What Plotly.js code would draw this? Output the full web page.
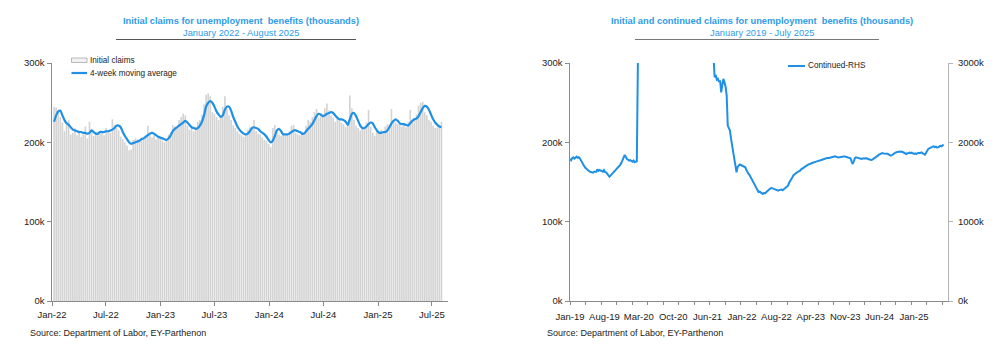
<!DOCTYPE html>
<html>
<head>
<meta charset="utf-8">
<script src="https://cdn.plot.ly/plotly-3.0.1.min.js"></script>
<style>
  html, body { margin: 0; padding: 0; background: #fff; }
  #chart { width: 1000px; height: 354px; }
</style>
</head>
<body>
<div id="chart"></div>
<script>
// ---------- Left chart: weekly initial claims (thousands), weeks from 2022-01-08 ----------
const initialStartDate = '2022-01-08';
const initialClaims = [
  245,244,238,232,225,214,222,228,210,212,218,209,215,207,210,220,205,226,212,208,
  213,210,212,215,209,218,214,212,229,222,218,215,207,204,200,196,190,191,203,205,
  204,201,206,205,209,221,212,206,210,204,208,206,202,200,203,210,213,222,220,218,
  228,232,236,234,221,216,218,214,220,226,228,235,248,260,262,258,238,236,232,228,
  232,245,258,242,234,228,222,218,214,211,209,207,212,216,219,220,228,214,211,210,
  206,203,202,198,194,218,222,212,210,208,212,209,211,214,221,222,212,210,209,214,
  212,221,228,226,232,238,242,231,233,236,243,249,240,234,231,226,230,228,225,223,
  219,222,259,243,228,221,218,215,219,220,225,241,220,212,208,214,211,216,213,220,
  223,222,242,227,225,223,224,220,223,219,226,241,228,231,235,246,250,251,238,234,
  228,226,221,218,219,222,226
];
const movingAverage4w = [
  226,234,239,240,234,228,224,222,219,216,215,214,213,213,212,212,211,212,215,213,
  211,211,213,213,213,214,214,215,216,218,221,221,219,213,208,204,200,198,199,200,
  201,202,204,205,207,209,211,212,211,209,207,206,205,204,203,205,209,214,217,219,
  221,223,225,227,225,222,219,218,217,218,221,226,234,245,250,252,250,245,239,235,
  232,234,241,245,245,240,232,226,220,216,213,211,210,211,214,218,219,218,217,214,
  212,210,207,203,200,202,208,215,217,214,210,210,210,211,213,215,215,214,213,211,
  211,214,217,220,223,228,233,236,235,233,234,236,237,238,237,234,231,229,229,228,
  226,222,229,236,237,233,227,221,218,218,220,223,225,224,219,215,212,212,213,213,
  215,219,224,227,229,227,224,223,223,222,221,224,227,229,230,233,238,243,246,245,
  241,235,229,225,222,220,219
];
const leftXTickFormat = '%b-%y';

// ---------- Right chart: weekly continued claims (thousands), Jan 2019 - Jul 2025 ----------
const continuedClaims = [
  1790,1775,1800,1811,1795,1815,1819,1805,1812,1798,1770,1745,1727,1700,1680,1664,1650,1645,1630,1625,
  1622,1618,1630,1625,1630,1660,1640,1651,1645,1630,1630,1650,1625,1622,1600,1585,1567,1580,1595,1613,
  1625,1645,1664,1675,1690,1706,1720,1745,1769,1810,1840,1805,1790,1780,1769,1775,1760,1756,1770,1750,
  1756,1760,3060,7450,11900,15800,18000,19500,22300,22500,20800,21000,20500,19300,18200,17600,17000,16900,16200,15500,
  14800,13500,13300,12500,13400,12600,11800,10900,10000,9300,8300,7800,7200,6800,6400,6100,5800,5500,5300,5200,
  5100,5000,4900,4700,4800,4550,4400,4200,4300,4200,4100,3900,3800,3750,3700,3650,3700,3650,3700,3650,
  3600,3550,3500,3450,3400,3350,3300,3300,3250,3200,3150,3080,2820,2850,2790,2800,2760,2780,2630,2720,
  2800,2758,2700,2590,2211,2180,2148,2043,1960,1874,1811,1750,1622,1690,1706,1720,1714,1705,1700,1690,
  1685,1650,1620,1601,1585,1560,1538,1510,1480,1454,1430,1400,1375,1378,1365,1360,1350,1362,1357,1370,
  1385,1391,1405,1420,1425,1418,1410,1412,1400,1395,1391,1398,1402,1404,1395,1408,1412,1425,1440,1454,
  1490,1520,1538,1560,1585,1601,1610,1620,1628,1635,1643,1660,1670,1680,1693,1700,1710,1718,1725,1727,
  1735,1740,1745,1748,1755,1760,1765,1769,1772,1778,1782,1786,1790,1795,1800,1802,1798,1803,1810,1815,
  1818,1820,1825,1818,1812,1808,1811,1815,1818,1822,1820,1820,1815,1810,1808,1803,1800,1760,1727,1760,
  1800,1811,1805,1800,1795,1792,1790,1795,1798,1800,1802,1799,1790,1785,1780,1778,1782,1790,1800,1810,
  1820,1832,1845,1855,1862,1865,1860,1858,1862,1862,1855,1845,1838,1832,1840,1852,1865,1870,1874,1878,
  1880,1885,1880,1883,1875,1865,1858,1853,1860,1868,1872,1865,1870,1860,1855,1862,1853,1860,1868,1862,
  1870,1874,1860,1855,1845,1870,1900,1916,1925,1935,1942,1946,1950,1940,1945,1935,1937,1942,1955,1950,
  1960,1971
];
const rightXLabels = ['Jan-19','Aug-19','Mar-20','Oct-20','Jun-21','Jan-22','Aug-22','Apr-23','Nov-23','Jun-24','Jan-25'];

// ---------- Text ----------
const leftTitle = 'Initial claims for unemployment  benefits (thousands)';
const leftSubtitle = 'January 2022 - August 2025';
const rightTitle = 'Initial and continued claims for unemployment  benefits (thousands)';
const rightSubtitle = 'January 2019 - July 2025';
const sourceText = 'Source: Department of Labor, EY-Parthenon';
const legendNames = ['Initial claims', '4-week moving average', 'Continued-RHS'];

// ---------- Build ----------
const weeklyDates = initialClaims.map((_, i) => {
  const d = new Date(initialStartDate + 'T00:00:00Z');
  d.setUTCDate(d.getUTCDate() + 7 * i);
  return d.toISOString().slice(0, 10);
});
const weekIndex = continuedClaims.map((_, i) => i);
const labelStep = 31.4;      // weeks between axis labels (~7.2 months)
const minorTickStep = 14.15; // weeks between tick marks
const rightTickVals = rightXLabels.map((_, k) => k * labelStep);

const BLUE = '#1f90e6';
const TITLE_BLUE = '#2e9be8';
const AXIS_GRAY = '#8a8a8a';
const FONT = 'Liberation Sans, Arial, sans-serif';
const W = 1000, H = 354;
const px = v => v / W;
const py = v => 1 - v / H;

const traces = [
  {
    type: 'bar', name: legendNames[0], x: weeklyDates, y: initialClaims,
    marker: { color: '#d3d3d3', line: { width: 0 } },
    xaxis: 'x', yaxis: 'y', showlegend: false
  },
  {
    type: 'scatter', mode: 'lines', name: legendNames[1], x: weeklyDates, y: movingAverage4w,
    line: { color: BLUE, width: 2.2, shape: 'spline', smoothing: 0.6 },
    xaxis: 'x', yaxis: 'y', showlegend: false
  },
  // anchor trace so the right chart's left (0-300k) axis subplot exists
  {
    type: 'scatter', mode: 'lines', x: [], y: [], xaxis: 'x2', yaxis: 'y2',
    showlegend: false, hoverinfo: 'skip'
  },
  {
    type: 'scatter', mode: 'lines', name: legendNames[2], x: weekIndex, y: continuedClaims,
    line: { color: BLUE, width: 2 },
    xaxis: 'x2', yaxis: 'y3', showlegend: false
  }
];

const yDom = [1 - 301 / 354, 1 - 63 / 354];
const tickFont = { family: FONT, size: 9.5, color: '#222' };

const layout = {
  width: W, height: H,
  margin: { l: 0, r: 0, t: 0, b: 0 },
  paper_bgcolor: '#fff', plot_bgcolor: 'rgba(0,0,0,0)',
  font: { family: FONT, size: 9.5, color: '#222' },
  bargap: 0.22,
  showlegend: false,
  xaxis: {
    domain: [0.052, 0.448], anchor: 'y', type: 'date',
    range: ['2022-01-01', '2025-08-24'],
    tick0: '2022-01-01', dtick: 'M6', tickformat: leftXTickFormat, tickangle: 0,
    showgrid: false, zeroline: false,
    showline: true, linecolor: AXIS_GRAY, linewidth: 1.2,
    ticks: 'outside', ticklen: 4, tickcolor: AXIS_GRAY, tickfont: tickFont
  },
  yaxis: {
    domain: yDom, anchor: 'x', range: [0, 300], dtick: 100, ticksuffix: 'k',
    showgrid: false, zeroline: false,
    showline: true, linecolor: AXIS_GRAY, linewidth: 1.5,
    ticks: 'outside', ticklen: 4, tickcolor: AXIS_GRAY, tickfont: tickFont
  },
  xaxis2: {
    domain: [0.570, 0.948], anchor: 'y2', type: 'linear',
    range: [0, 345], tickangle: 0,
    tickmode: 'array', tickvals: rightTickVals, ticktext: rightXLabels,
    showgrid: false, zeroline: false,
    showline: true, linecolor: AXIS_GRAY, linewidth: 1.2,
    ticks: '', ticklabelstandoff: 6, tickfont: tickFont,
    minor: { tickmode: 'linear', tick0: 0, dtick: minorTickStep, ticks: 'outside', ticklen: 3, tickcolor: AXIS_GRAY, showgrid: false }
  },
  yaxis2: {
    domain: yDom, anchor: 'x2', range: [0, 300], dtick: 100, ticksuffix: 'k',
    showgrid: false, zeroline: false,
    showline: true, linecolor: AXIS_GRAY, linewidth: 1.5,
    ticks: 'outside', ticklen: 4, tickcolor: AXIS_GRAY, tickfont: tickFont
  },
  yaxis3: {
    domain: yDom, overlaying: 'y2', side: 'right', anchor: 'x2', range: [0, 3000], dtick: 1000, ticksuffix: 'k',
    showgrid: false, zeroline: false,
    showline: true, linecolor: '#b5b5b5', linewidth: 1,
    ticks: 'outside', ticklen: 4, tickcolor: '#b5b5b5', ticklabelstandoff: 3, tickfont: tickFont
  },
  annotations: [
    { xref: 'paper', yref: 'paper', x: px(241), y: py(21), xanchor: 'center', yanchor: 'middle',
      text: '<b>' + leftTitle + '</b>', showarrow: false, font: { family: FONT, size: 9.3, color: TITLE_BLUE } },
    { xref: 'paper', yref: 'paper', x: px(241), y: py(32.5), xanchor: 'center', yanchor: 'middle',
      text: leftSubtitle, showarrow: false, font: { family: FONT, size: 9.3, color: TITLE_BLUE } },
    { xref: 'paper', yref: 'paper', x: px(762), y: py(21), xanchor: 'center', yanchor: 'middle',
      text: '<b>' + rightTitle + '</b>', showarrow: false, font: { family: FONT, size: 9.3, color: TITLE_BLUE } },
    { xref: 'paper', yref: 'paper', x: px(762), y: py(32.5), xanchor: 'center', yanchor: 'middle',
      text: rightSubtitle, showarrow: false, font: { family: FONT, size: 9.3, color: TITLE_BLUE } },
    { xref: 'paper', yref: 'paper', x: px(28), y: py(333), xanchor: 'left', yanchor: 'middle',
      text: sourceText, showarrow: false, font: { family: FONT, size: 9, color: '#222' } },
    { xref: 'paper', yref: 'paper', x: px(545), y: py(333), xanchor: 'left', yanchor: 'middle',
      text: sourceText, showarrow: false, font: { family: FONT, size: 9, color: '#222' } },
    // legend texts
    { xref: 'paper', yref: 'paper', x: px(87.5), y: py(60), xanchor: 'left', yanchor: 'middle',
      text: legendNames[0], showarrow: false, font: { family: FONT, size: 8.2, color: '#222' } },
    { xref: 'paper', yref: 'paper', x: px(87.5), y: py(73), xanchor: 'left', yanchor: 'middle',
      text: legendNames[1], showarrow: false, font: { family: FONT, size: 8.2, color: '#222' } },
    { xref: 'paper', yref: 'paper', x: px(805.5), y: py(66), xanchor: 'left', yanchor: 'middle',
      text: legendNames[2], showarrow: false, font: { family: FONT, size: 8.2, color: '#222' } }
  ],
  shapes: [
    { type: 'line', xref: 'paper', yref: 'paper', x0: px(116), x1: px(356), y0: py(39.5), y1: py(39.5),
      line: { color: '#555', width: 1.2 } },
    { type: 'line', xref: 'paper', yref: 'paper', x0: px(635), x1: px(879), y0: py(39.5), y1: py(39.5),
      line: { color: '#777', width: 1.2 } },
    // legend symbols
    { type: 'rect', xref: 'paper', yref: 'paper', x0: px(71.5), x1: px(87), y0: py(62.5), y1: py(58),
      line: { color: '#a8a8a8', width: 0.8 }, fillcolor: '#f2f2f2' },
    { type: 'line', xref: 'paper', yref: 'paper', x0: px(71.5), x1: px(87), y0: py(73), y1: py(73),
      line: { color: BLUE, width: 2.2 } },
    { type: 'line', xref: 'paper', yref: 'paper', x0: px(788), x1: px(805), y0: py(66), y1: py(66),
      line: { color: BLUE, width: 2 } }
  ]
};

Plotly.newPlot('chart', traces, layout, { displayModeBar: false, staticPlot: true });
</script>
</body>
</html>
